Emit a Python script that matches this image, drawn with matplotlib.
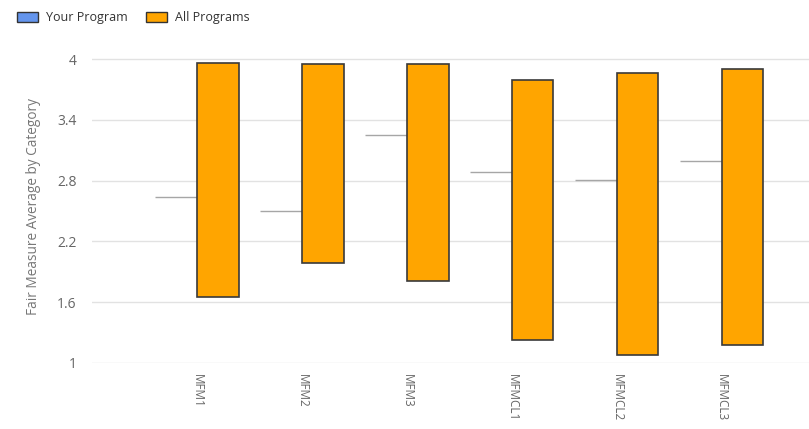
import matplotlib
matplotlib.use("Agg")
import matplotlib.pyplot as plt
from matplotlib.patches import Patch
import numpy as np

plt.rcParams['font.family'] = ['Open Sans', 'DejaVu Sans']

categories = ['MFM1', 'MFM2', 'MFM3', 'MFMCL1', 'MFMCL2', 'MFMCL3']
your_program = [2.64, 2.50, 3.25, 2.89, 2.81, 2.99]
all_min = [1.65, 1.99, 1.81, 1.23, 1.08, 1.18]
all_max = [3.96, 3.95, 3.95, 3.79, 3.86, 3.90]
y_ticks = [1, 1.6, 2.2, 2.8, 3.4, 4]

fig = plt.figure(figsize=(8.09, 4.29), dpi=100)
ax = fig.add_axes([92 / 809, 66 / 429, 717 / 809, 313 / 429])

x = np.arange(len(categories))
w = 0.4

# grid lines first
for t in y_ticks:
    ax.axhline(t, color='#e2e2e2', linewidth=1, zorder=0)

# your program: a flat floating bar, shows as a thin line
ax.hlines(your_program, x - w, x, color='#a6a6a6', linewidth=1, zorder=2)

# all programs: range from min to max
heights = np.array(all_max) - np.array(all_min)
ax.bar(x + w / 2, heights, width=w * 0.98, bottom=all_min, color='#FFA500',
       edgecolor='#3a3a3a', linewidth=1.2, zorder=3)

ax.set_xlim(-1.0, 5.83)
ax.set_ylim(1, 4.09)
ax.set_yticks(y_ticks)
ax.set_yticklabels([f'{t:g}' for t in y_ticks])
ax.set_xticks(x)
ax.set_xticklabels(categories, rotation=-90, va='top', ha='center')
ax.tick_params(axis='both', length=0, colors='#666666', labelsize=10)
ax.tick_params(axis='x', pad=8, labelsize=8.5)
ax.tick_params(axis='y', pad=11)
for s in ax.spines.values():
    s.set_visible(False)

ax.set_ylabel('Fair Measure Average by Category', color='#777777', fontsize=9.8, labelpad=12)

handles = [Patch(facecolor='#6495ED', edgecolor='#333333', linewidth=1),
           Patch(facecolor='#FFA500', edgecolor='#333333', linewidth=1)]
fig.legend(handles, ['Your Program', 'All Programs'], loc='upper left',
           bbox_to_anchor=(0.007, 1.0), ncol=2, frameon=False, fontsize=9,
           handlelength=1.7, handleheight=0.9, columnspacing=1.5, handletextpad=0.6,
           labelcolor='#333333')

fig.savefig('out.png', dpi=100)
